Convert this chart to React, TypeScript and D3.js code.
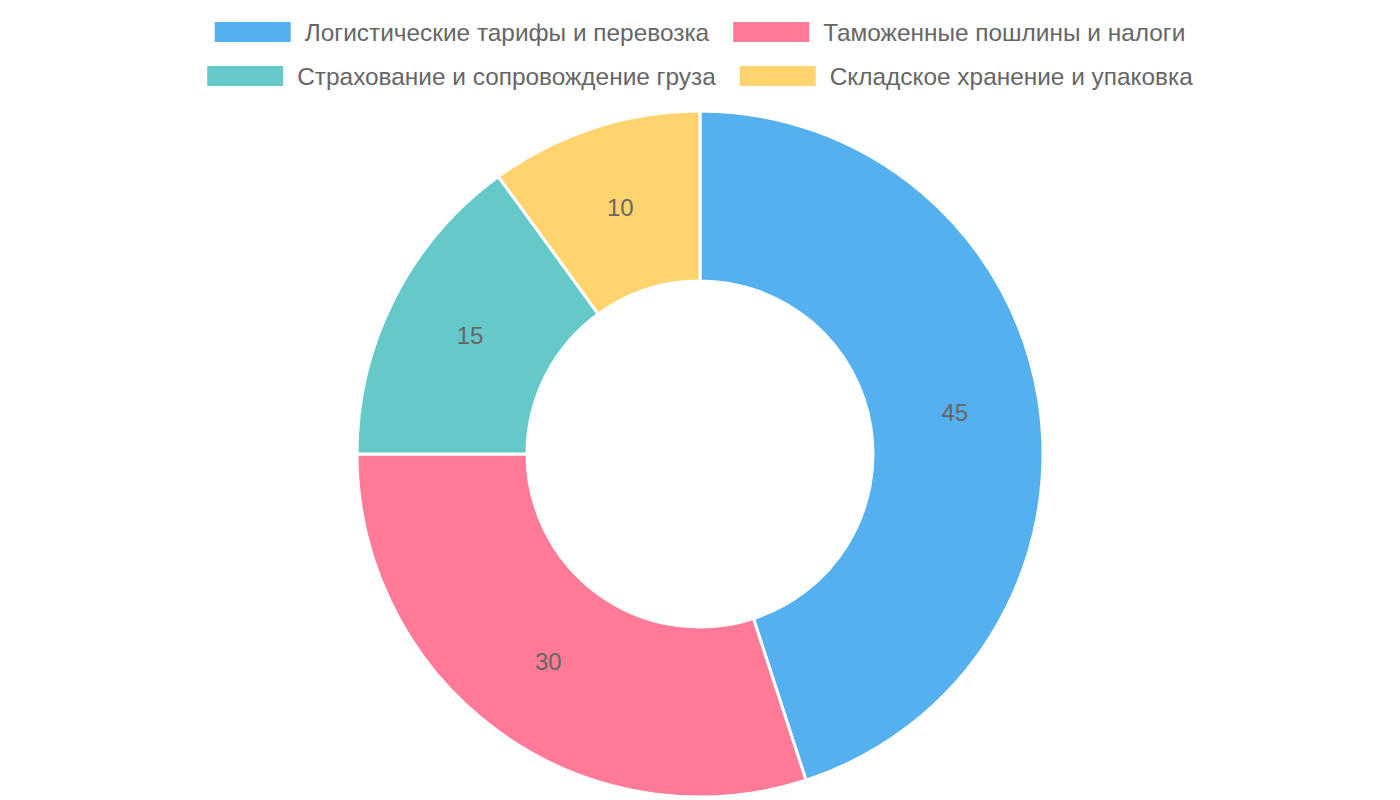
import { useEffect, useRef } from 'react';
import * as d3 from 'd3';

const categories = [
  'Логистические тарифы и перевозка',
  'Таможенные пошлины и налоги',
  'Страхование и сопровождение груза',
  'Складское хранение и упаковка',
];
const values = [45, 30, 15, 10];
const colors = ['#54b0ee', '#ff7a96', '#66c9c9', '#ffd46f'];

const W = 1400;
const H = 800;

const App = () => {
  const svgRef = useRef<SVGSVGElement>(null);

  useEffect(() => {
    if (!svgRef.current) return;
    const svg = d3.select(svgRef.current);
    svg.selectAll('*').remove();

    const font = '"Liberation Sans", Arial, Helvetica, sans-serif';

    // Legend, two centred rows of two items
    const legend = svg.append('g');
    const rows = [[0, 1], [2, 3]];
    rows.forEach((row, ri) => {
      const y = 32 + ri * 44;
      const g = legend.append('g');
      let x = 0;
      row.forEach((i, k) => {
        if (k > 0) x += 24;
        g.append('rect')
          .attr('x', x)
          .attr('y', y - 10)
          .attr('width', 76)
          .attr('height', 20)
          .attr('fill', colors[i]);
        const t = g.append('text')
          .attr('x', x + 90)
          .attr('y', y)
          .attr('dy', '0.35em')
          .attr('font-family', font)
          .attr('font-size', 24.4)
          .attr('fill', '#666')
          .text(categories[i]);
        const tw = (t.node() as SVGTextElement).getComputedTextLength();
        x += 90 + tw;
      });
      g.attr('transform', `translate(${(W - x) / 2},0)`);
    });

    // Doughnut
    const cx = 700;
    const cy = 454;
    const outer = 343;
    const inner = 173;

    const pie = d3.pie<number>().sort(null).value(d => d);
    const arcs = pie(values);
    const arc = d3.arc<d3.PieArcDatum<number>>().innerRadius(inner).outerRadius(outer);
    const labelArc = d3.arc<d3.PieArcDatum<number>>()
      .innerRadius((inner + outer) / 2)
      .outerRadius((inner + outer) / 2);

    const chart = svg.append('g').attr('transform', `translate(${cx},${cy})`);

    chart.selectAll('path')
      .data(arcs)
      .enter()
      .append('path')
      .attr('d', arc)
      .attr('fill', (_, i) => colors[i])
      .attr('stroke', '#fff')
      .attr('stroke-width', 3)
      .attr('stroke-linejoin', 'round');

    chart.selectAll('text.val')
      .data(arcs)
      .enter()
      .append('text')
      .attr('class', 'val')
      .attr('transform', d => `translate(${labelArc.centroid(d)})`)
      .attr('text-anchor', 'middle')
      .attr('dy', '0.3em')
      .attr('font-family', font)
      .attr('font-size', 24)
      .attr('fill', '#666')
      .text(d => String(d.data));
  }, []);

  return (
    <svg
      ref={svgRef}
      width={W}
      height={H}
      style={{ position: 'fixed', top: 0, left: 0, background: '#fff' }}
    />
  );
};

export default App;
